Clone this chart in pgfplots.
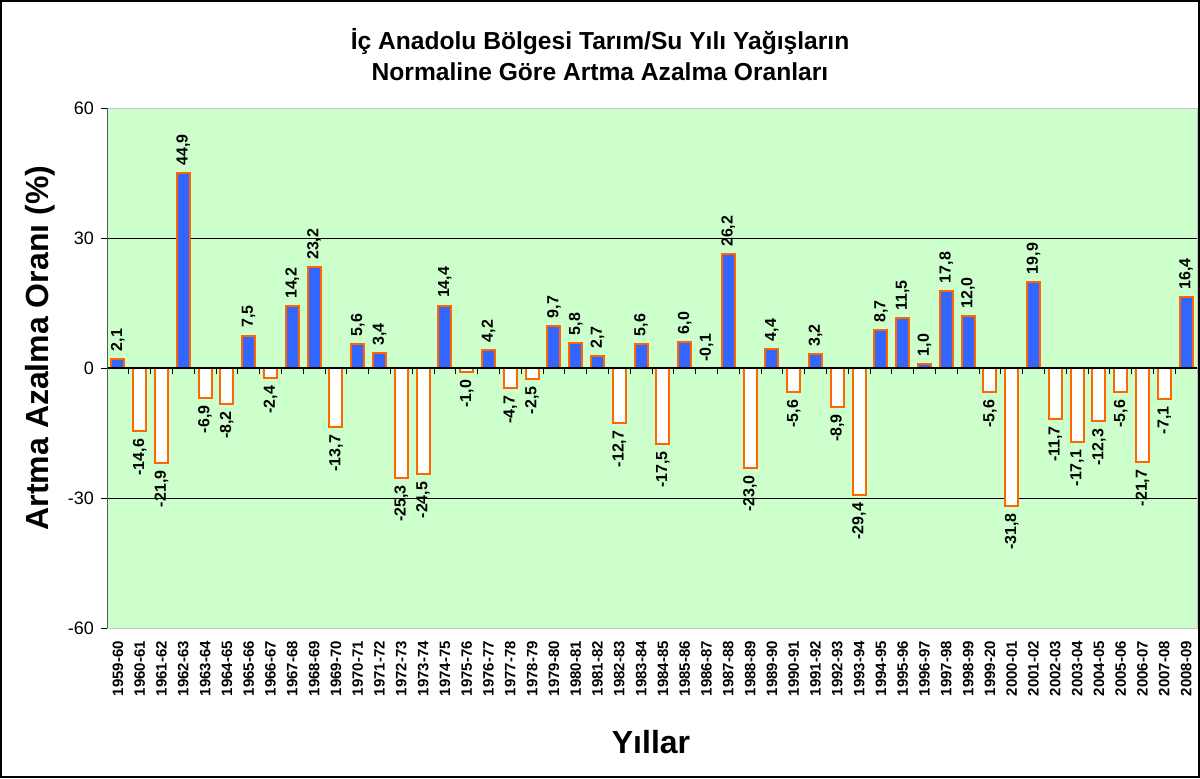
\documentclass[border=0pt]{standalone}
\usepackage{pgfplots}
\pgfplotsset{compat=1.18}
\usepackage{pgfplotstable}
\usepackage{fontspec}
\setmainfont{Liberation Sans}

\definecolor{plotbg}{HTML}{CCFFCC}
\definecolor{barblue}{HTML}{3366FF}
\definecolor{barorange}{HTML}{FF6600}

% positive years
\pgfplotstableread{
x y
0 2.1
3 44.9
6 7.5
8 14.2
9 23.2
11 5.6
12 3.4
15 14.4
17 4.2
20 9.7
21 5.8
22 2.7
24 5.6
26 6.0
28 26.2
30 4.4
32 3.2
35 8.7
36 11.5
37 1.0
38 17.8
39 12.0
42 19.9
49 16.4
}\postab

% negative years
\pgfplotstableread{
x y
1 -14.6
2 -21.9
4 -6.9
5 -8.2
7 -2.4
10 -13.7
13 -25.3
14 -24.5
16 -1.0
18 -4.7
19 -2.5
23 -12.7
25 -17.5
29 -23.0
31 -5.6
33 -8.9
34 -29.4
40 -5.6
41 -31.8
43 -11.7
44 -17.1
45 -12.3
46 -5.6
47 -21.7
48 -7.1
}\negtab

\begin{document}
\begin{tikzpicture}
\useasboundingbox (0,0) rectangle (600pt,389pt);
\draw[black, line width=1pt] (0.5pt,0.5pt) rectangle (599.5pt,388.5pt);

\node[font=\bfseries\fontsize{12.3}{14}\selectfont] at (300pt,368pt) {İç Anadolu Bölgesi Tarım/Su Yılı Yağışların};
\node[font=\bfseries\fontsize{12.3}{14}\selectfont] at (300pt,353pt) {Normaline Göre Artma Azalma Oranları};
\node[font=\bfseries\fontsize{16}{19}\selectfont, rotate=90] at (20pt,215pt) {Artma Azalma Oranı (\%)};
\node[font=\bfseries\fontsize{16}{19}\selectfont] at (325.5pt,18pt) {Yıllar};

\begin{axis}[
    at={(53.5pt,75pt)}, anchor=south west,
    width=545pt, height=260pt, scale only axis,
    xmin=-0.5, xmax=49.5, ymin=-60, ymax=60,
    ytick={-60,-30,0,30,60},
    yticklabels={-60,-30,0,30,60},
    xtick={0,...,49},
    xticklabels={1959-60,1960-61,1961-62,1962-63,1963-64,1964-65,1965-66,1966-67,1967-68,1968-69,1969-70,1970-71,1971-72,1972-73,1973-74,1974-75,1975-76,1976-77,1977-78,1978-79,1979-80,1980-81,1981-82,1982-83,1983-84,1984-85,1985-86,1986-87,1987-88,1988-89,1989-90,1990-91,1991-92,1992-93,1993-94,1994-95,1995-96,1996-97,1997-98,1998-99,1999-20,2000-01,2001-02,2002-03,2003-04,2004-05,2005-06,2006-07,2007-08,2008-09},
    xticklabel style={rotate=90, anchor=east, font=\bfseries\fontsize{7.5}{8}\selectfont},
    yticklabel style={font=\fontsize{9}{10}\selectfont},
    /pgf/number format/assume math mode=true,
    xtick style={draw=none},
    major tick length=3pt,
    tick align=outside,
    tick style={black},
    ytick pos=left,
    axis line style={draw=gray!45},
    axis background/.style={fill=plotbg},
    ybar, bar width=6.5pt, bar shift=0pt,
    /pgf/number format/.cd, use comma, fixed, fixed zerofill, precision=1,
]
\draw[black, line width=0.5pt] (axis cs:-0.5,30) -- (axis cs:49.5,30);
\draw[black, line width=0.5pt] (axis cs:-0.5,-30) -- (axis cs:49.5,-30);

\addplot[fill=barblue, draw=barorange, line width=1pt,
    nodes near coords,
    every node near coord/.append style={rotate=90, anchor=west, black,
        font=\bfseries\fontsize{8}{9}\selectfont}]
    table[x=x, y=y] {\postab};

\addplot[fill=white, draw=barorange, line width=1pt,
    nodes near coords,
    every node near coord/.append style={rotate=90, anchor=east, black,
        font=\bfseries\fontsize{8}{9}\selectfont}]
    table[x=x, y=y] {\negtab};

% 1986-87, near zero: label only
\addplot[fill=none, draw=none,
    nodes near coords,
    every node near coord/.append style={rotate=90, anchor=west, black,
        font=\bfseries\fontsize{8}{9}\selectfont}]
    coordinates {(27,-0.1)};

\draw[black, line width=0.6pt] (axis cs:-0.5,0) -- (axis cs:49.5,0);
\pgfplotsinvokeforeach{0,...,50}{
  \draw[black, line width=0.5pt] (axis cs:#1-0.5,0) -- (axis cs:#1-0.5,-1.4);
}
\draw[gray!70!black, line width=0.6pt] (rel axis cs:0,0) -- (rel axis cs:0,1);
\end{axis}
\end{tikzpicture}
\end{document}
